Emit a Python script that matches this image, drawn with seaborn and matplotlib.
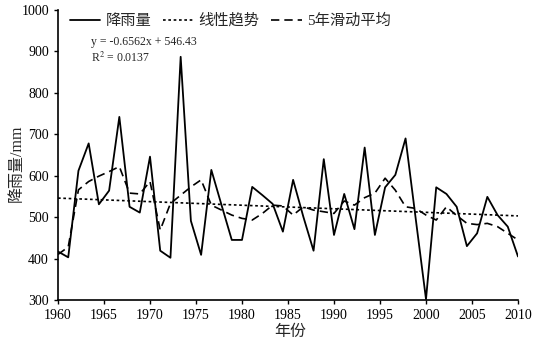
import numpy as np
import pandas as pd
import matplotlib
matplotlib.use("Agg")
import matplotlib.pyplot as plt
import seaborn as sns

# ---- data ----
rainfall = [417, 403, 612, 678, 531, 564, 742, 525, 511, 646,
            419, 402, 887, 491, 409, 614, 529, 445, 445, 573,
            553, 532, 465, 590, 501, 419, 640, 457, 556, 471,
            668, 457, 572, 602, 690, 495, 302, 572, 556, 525,
            430, 461, 549, 505, 477, 405]
moving_avg = [410, 428, 566, 586, 599, 610, 622, 558, 556, 586,
              469, 533, 553, 573, 590, 529, 517, 505, 497, 493,
              509, 529, 527, 505, 525, 517, 513, 509, 539, 529,
              547, 558, 594, 565, 525, 521, 505, 493, 525, 504,
              485, 482, 485, 477, 461, 445]
trend_ends = [546, 503]
year_ticks = [1960, 1965, 1970, 1975, 1980, 1985, 1990, 1995, 2000, 2005, 2010]
y_ticks = [300, 400, 500, 600, 700, 800, 900, 1000]
labels = ["降雨量", "线性趋势", "5年滑动平均"]
equation = "y = -0.6562x + 546.43"
r2_text = "R$^2$ = 0.0137"

# x positions of the data points spread evenly over the labelled axis
xpos = np.linspace(year_ticks[0], year_ticks[-1], len(rainfall))
df = pd.DataFrame({"x": xpos, "rain": rainfall, "ma": moving_avg})
trend_df = pd.DataFrame({"x": [year_ticks[0], year_ticks[-1]], "t": trend_ends})

sns.set_style("ticks")
plt.rcParams["font.family"] = ["Liberation Serif", "Noto Sans CJK SC"]
plt.rcParams["mathtext.fontset"] = "stix"

fig = plt.figure(figsize=(5.35, 3.42), dpi=100)
ax = fig.add_axes([58 / 535, 42 / 342, 460 / 535, 290 / 342])

sns.lineplot(data=df, x="x", y="rain", ax=ax, color="black", lw=1.3,
             label=labels[0])
sns.lineplot(data=trend_df, x="x", y="t", ax=ax, color="black", lw=1.2,
             linestyle=(0, (1.6, 1.6)), label=labels[1])
sns.lineplot(data=df, x="x", y="ma", ax=ax, color="black", lw=1.2,
             linestyle=(0, (5, 3)), label=labels[2])

ax.set_xlim(year_ticks[0], year_ticks[-1])
ax.set_ylim(y_ticks[0], y_ticks[-1])
ax.set_xticks(year_ticks)
ax.set_yticks(y_ticks)
ax.tick_params(axis="both", labelsize=10, direction="out", length=3,
               width=1, color="black", labelcolor="black")
for s in ["top", "right"]:
    ax.spines[s].set_visible(False)
for s in ["left", "bottom"]:
    ax.spines[s].set_color("black")
    ax.spines[s].set_linewidth(1.2)

ax.set_xlabel("年份", fontsize=11.5)
ax.set_ylabel("降雨量/mm", fontsize=11.5)
ax.xaxis.set_label_coords(0.504, -0.082)
ax.yaxis.set_label_coords(-0.072, 0.472)

ax.text(0.072, 0.89, equation, transform=ax.transAxes, fontsize=8.5,
        ha="left", va="center")
ax.text(0.072, 0.834, r2_text, transform=ax.transAxes, fontsize=8.5,
        ha="left", va="center")

leg = ax.legend(loc="upper left", bbox_to_anchor=(0.012, 1.009), ncol=3,
                frameon=False, fontsize=11, handlelength=2.0,
                handletextpad=0.35, columnspacing=0.75, borderaxespad=0)

fig.savefig("out.png", dpi=100)
